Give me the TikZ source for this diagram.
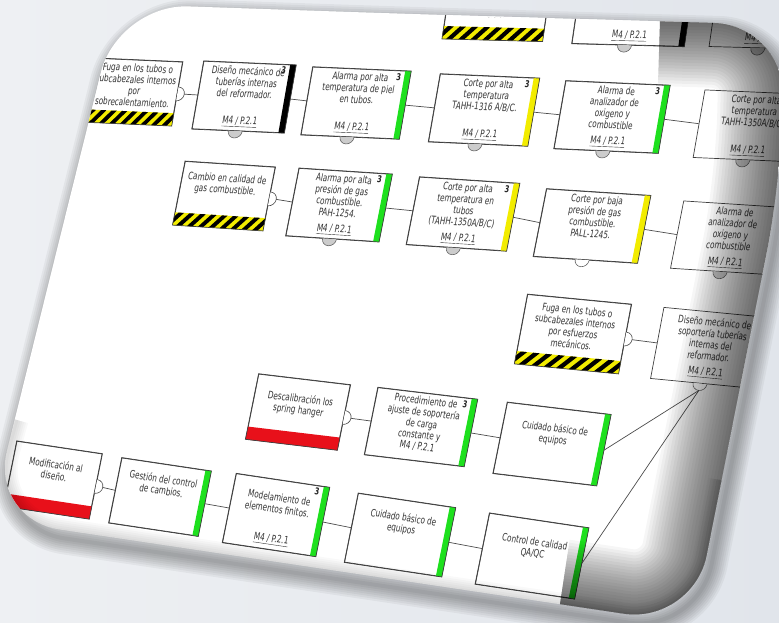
\documentclass[tikz,border=0pt]{standalone}
\usepackage{xcolor}
\usepackage{fontspec}
\setmainfont{DejaVu Sans}[FakeStretch=0.7]
\usepackage{tikz}
\usetikzlibrary{calc}

\definecolor{bgleft}{HTML}{EEF0F3}
\definecolor{bgright}{HTML}{E1E5EB}
\definecolor{bargreen}{HTML}{1EE01E}
\definecolor{baryellow}{HTML}{F2EC00}
\definecolor{barred}{HTML}{E8101A}

\tikzset{
  boxline/.style={draw=black!75, line width=.7pt},
  bowbox/.style={boxline, fill=white, inner sep=2pt, minimum height=68pt, text=black!80, font=\fontsize{10.3}{11.5}\selectfont},
  threatbox/.style={bowbox, minimum height=64pt},
  numtag/.style={inner sep=1pt, text=black!85, font=\bfseries\fontsize{9.5}{9.5}\selectfont},
  link/.style={draw=black!70, line width=.7pt},
  rowa/.style={rotate=-1.5, xslant=.12},
  rowb/.style={rotate=-2.5, xslant=.13},
  rowc/.style={rotate=-3.7, xslant=.13},
  rowd/.style={rotate=-5.5, xslant=.09},
  rowe/.style={rotate=-6.8, xslant=.08},
  rowf/.style={rotate=-8.5, xslant=.05}
}

\newcommand\cardshape{(400,13.7) [rounded corners=70pt] -- (784,25) -- (781,180) -- (693,624) -- (-10,519) -- (118,4) -- cycle}
\newcommand\ttx[1]{\parbox[c][56pt][t]{82pt}{\centering #1}}
\newcommand\btx[2]{\parbox[c][61pt][t]{86pt}{\centering #1\par\vfill #2}}
\newcommand\mfoot{\underline{M4 / P.2.1}}

% coloured bar on the right side of a barrier
\newcommand\sidebar[2]{%
  \fill[#2] (#1.north east) -- (#1.south east) -- ($(#1.south east)!6pt!(#1.south west)$) -- ($(#1.north east)!6pt!(#1.north west)$) -- cycle;
  \draw[boxline] (#1.north west) -- (#1.north east) -- (#1.south east) -- (#1.south west) -- cycle;}
% red strip at the bottom of a threat
\newcommand\bottombar[2]{%
  \fill[#2] (#1.south west) -- (#1.south east) -- ($(#1.south east)!13pt!(#1.north east)$) -- ($(#1.south west)!13pt!(#1.north west)$) -- cycle;
  \draw[boxline] (#1.north west) -- (#1.north east) -- (#1.south east) -- (#1.south west) -- cycle;}
% yellow and black stripes
\newcommand\hatchbar[1]{%
  \coordinate (#1-h1) at ($(#1.south west)!13pt!(#1.north west)$);
  \coordinate (#1-h2) at ($(#1.south east)!13pt!(#1.north east)$);
  \fill[baryellow] (#1.south west) -- (#1.south east) -- (#1-h2) -- (#1-h1) -- cycle;
  \begin{scope}
    \clip (#1.south west) -- (#1.south east) -- (#1-h2) -- (#1-h1) -- cycle;
    \foreach \hx in {-0.2,-0.08,...,1.0}
      \fill[black] ($(#1.south west)!\hx!(#1.south east)$) -- ($(#1.south west)!{\hx+0.06}!(#1.south east)$) -- ($(#1-h1)!{\hx+0.18}!(#1-h2)$) -- ($(#1-h1)!{\hx+0.12}!(#1-h2)$) -- cycle;
  \end{scope}
  \draw[boxline] (#1.north west) -- (#1.north east) -- (#1.south east) -- (#1.south west) -- cycle;}
% half disc under a barrier
\newcommand\bubble[3]{%
  \begin{scope}[shift={($(#1.south west)!.47!(#1.south east)$)}, #2]
    \filldraw[fill=#3, draw=black!60, line width=.6pt] (-7,0) arc[start angle=180, end angle=0, radius=7];
    \coordinate (#1-tip) at (0,7);
  \end{scope}}
% half disc on the right of a threat
\newcommand\bump[2]{%
  \begin{scope}[shift={(#1.east)}, #2]
    \filldraw[fill=white, draw=black!70, line width=.6pt] (0,-7) arc[start angle=-90, end angle=90, radius=7];
  \end{scope}}
\newcommand\three[2]{%
  \coordinate (#1-q1) at ($(#1.north east)!8pt!(#1.north west)$);
  \coordinate (#1-q2) at ($(#1.south east)!8pt!(#1.south west)$);
  \node[numtag, #2, anchor=north east] at ($(#1-q1)!1.5pt!(#1-q2)$) {3};}

\begin{document}
\begin{tikzpicture}[x=1pt,y=-1pt]
\useasboundingbox (0,0) rectangle (779,622);
\shade[left color=bgleft, right color=bgright] (0,0) rectangle (779,622);

% shadow and card
\foreach \w in {4,8,...,32}
  \draw[line width=\w pt, black, opacity=.045, shift={(5,9)}] \cardshape;
\fill[white] \cardshape;

\begin{scope}
\clip \cardshape;

% row cut by the top edge
\node[threatbox, rowa, minimum width=100pt] (ciclo) at (497,8) {\ttx{\vspace*{30pt}ciclo.}};
\node[bowbox, rowa, minimum width=112pt] (disref) at (633,11) {\btx{\vspace*{22pt}del reformador.}{\mfoot}};
\node[bowbox, rowa, minimum width=104pt] (topend) at (766,14) {\btx{}{\mfoot}};

% first row
\node[threatbox, rowb, minimum width=86pt] (fugasob) at (134,92) {\ttx{Fuga en los tubos o\\ subcabezales internos\\ por\\ sobrecalentamiento.}};
\node[bowbox, rowb, minimum width=92pt] (distub) at (244,97) {\btx{Diseño mecánico de\\ tuberías internas\\ del reformador.}{\mfoot}};
\node[bowbox, rowb, minimum width=98pt] (alpiel) at (356,103) {\btx{Alarma por alta\\ temperatura de piel\\ en tubos.}{\mfoot}};
\node[bowbox, rowb, minimum width=99pt] (co1316) at (484,110) {\btx{Corte por alta\\ temperatura\\ TAHH-1316 A/B/C.}{\mfoot}};
\node[bowbox, rowb, minimum width=104pt] (analoxa) at (612,117) {\btx{Alarma de\\ analizador de\\ oxigeno y\\ combustible}{\mfoot}};
\node[bowbox, rowb, minimum width=106pt] (co1350a) at (752,126) {\btx{Corte por alta\\ temperatura\\ TAHH-1350A/B/C.}{\mfoot}};

% second row
\node[threatbox, rowc, minimum width=90pt] (cambgas) at (224,196) {\ttx{\vspace*{6pt}Cambio en calidad de\\ gas combustible.}};
\node[bowbox, rowc, minimum width=93pt] (al1254) at (339,205) {\btx{Alarma por alta\\ presión de gas\\ combustible.\\ PAH-1254.}{\mfoot}};
\node[bowbox, rowc, minimum width=100pt] (co1350b) at (463,214) {\btx{Corte por alta\\ temperatura en\\ tubos\\ (TAHH-1350A/B/C)}{\mfoot}};
\node[bowbox, rowc, minimum width=104pt] (co1245) at (592,226) {\btx{Corte por baja\\ presión de gas\\ combustible.\\ PALL-1245.}{}};
\node[bowbox, rowc, minimum width=106pt] (analoxb) at (730,238) {\btx{Alarma de\\ analizador de\\ oxigeno y\\ combustible}{\mfoot}};

% third row
\node[threatbox, rowd, minimum width=104pt, minimum height=70pt] (fugaesf) at (573,334) {\ttx{Fuga en los tubos o\\ subcabezales internos\\ por esfuerzos\\ mecánicos.}};
\node[bowbox, rowd, minimum width=106pt, minimum height=72pt] (dissop) at (710,348) {\btx{Diseño mecánico de\\ soportería tuberías\\ internas del\\ reformador.}{\mfoot}};

% fourth row
\node[threatbox, rowe, minimum width=92pt, minimum height=66pt] (descal) at (298,412) {\ttx{\vspace*{10pt}Descalibración los\\ spring hanger}};
\node[bowbox, rowe, minimum width=100pt] (procaj) at (421,427) {\btx{Procedimiento de\\ ajuste de soportería\\ de carga\\ constante y\\ M4 / P.2.1}{}};
\node[bowbox, rowe, minimum width=104pt, minimum height=72pt] (cuidadoa) at (552,444) {\btx{\vspace*{10pt}Cuidado básico de\\ equipos}{}};

% fifth row
\node[threatbox, rowf, minimum width=84pt, minimum height=66pt] (modif) at (53,480) {\ttx{\vspace*{8pt}Modificación al\\ diseño.}};
\node[bowbox, rowf, minimum width=90pt, minimum height=66pt] (gestion) at (160,497) {\btx{\vspace*{8pt}Gestión del control\\ de cambios.}{}};
\node[bowbox, rowf, minimum width=94pt, minimum height=70pt] (modelam) at (276,515) {\btx{\vspace*{9pt}Modelamiento de\\ elementos finitos.}{\mfoot}};
\node[bowbox, rowf, minimum width=98pt, minimum height=70pt] (cuidadob) at (400,535) {\btx{\vspace*{8pt}Cuidado básico de\\ equipos}{}};
\node[bowbox, rowf, minimum width=100pt, minimum height=72pt] (calidad) at (532,556) {\btx{\vspace*{12pt}Control de calidad\\ QA/QC}{}};

% bars and stripes
\hatchbar{ciclo}
\sidebar{disref}{black}
\hatchbar{fugasob}
\sidebar{distub}{black}
\sidebar{alpiel}{bargreen}
\sidebar{co1316}{baryellow}
\sidebar{analoxa}{bargreen}
\hatchbar{cambgas}
\sidebar{al1254}{bargreen}
\sidebar{co1350b}{baryellow}
\sidebar{co1245}{baryellow}
\hatchbar{fugaesf}
\bottombar{descal}{barred}
\sidebar{procaj}{bargreen}
\sidebar{cuidadoa}{bargreen}
\bottombar{modif}{barred}
\sidebar{gestion}{bargreen}
\sidebar{modelam}{bargreen}
\sidebar{cuidadob}{bargreen}
\sidebar{calidad}{bargreen}

% numbers
\three{distub}{rowb}
\three{alpiel}{rowb}
\three{co1316}{rowb}
\three{analoxa}{rowb}
\three{al1254}{rowc}
\three{co1350b}{rowc}
\three{procaj}{rowe}
\three{modelam}{rowf}

% half discs
\bubble{disref}{rowa}{black!20}
\bubble{topend}{rowa}{black!20}
\bubble{distub}{rowb}{black!20}
\bubble{alpiel}{rowb}{black!20}
\bubble{co1316}{rowb}{black!20}
\bubble{analoxa}{rowb}{black!20}
\bubble{co1350a}{rowb}{black!20}
\bubble{al1254}{rowc}{black!20}
\bubble{co1350b}{rowc}{black!20}
\bubble{co1245}{rowc}{white}
\bubble{analoxb}{rowc}{black!20}
\bubble{dissop}{rowd}{white}
\bump{fugasob}{rowb}
\bump{cambgas}{rowc}
\bump{fugaesf}{rowd}
\bump{descal}{rowe}
\bump{modif}{rowf}

% connectors
\draw[link] ($(fugasob.east)!-7pt!(fugasob.west)$) -- (distub.west);
\draw[link] (distub.east) -- (alpiel.west);
\draw[link] (alpiel.east) -- (co1316.west);
\draw[link] (co1316.east) -- (analoxa.west);
\draw[link] (analoxa.east) -- (co1350a.west);
\draw[link] ($(cambgas.east)!-7pt!(cambgas.west)$) -- (al1254.west);
\draw[link] (al1254.east) -- (co1350b.west);
\draw[link] (co1350b.east) -- (co1245.west);
\draw[link] (co1245.east) -- (analoxb.west);
\draw[link] ($(fugaesf.east)!-7pt!(fugaesf.west)$) -- (dissop.west);
\draw[link] ($(descal.east)!-7pt!(descal.west)$) -- (procaj.west);
\draw[link] (procaj.east) -- (cuidadoa.west);
\draw[link] (cuidadoa.east) -- (dissop-tip);
\draw[link] ($(modif.east)!-7pt!(modif.west)$) -- (gestion.west);
\draw[link] (gestion.east) -- (modelam.west);
\draw[link] (modelam.east) -- (cuidadob.west);
\draw[link] (cuidadob.east) -- (calidad.west);
\draw[link] (calidad.east) -- (dissop-tip);

% curled right edge and bottom bevel
\foreach \w in {4,10,...,130}
  \draw[rounded corners=70pt, line width=\w pt, black, opacity=.035] (660,21) -- (784,25) -- (781,180) -- (693,624) -- (560,604);
\foreach \w in {3,7,...,23}
  \draw[rounded corners=70pt, line width=\w pt, black, opacity=.025] (17,420) -- (-10,519) -- (693,624) -- (720,480);
\end{scope}
\end{tikzpicture}
\end{document}
